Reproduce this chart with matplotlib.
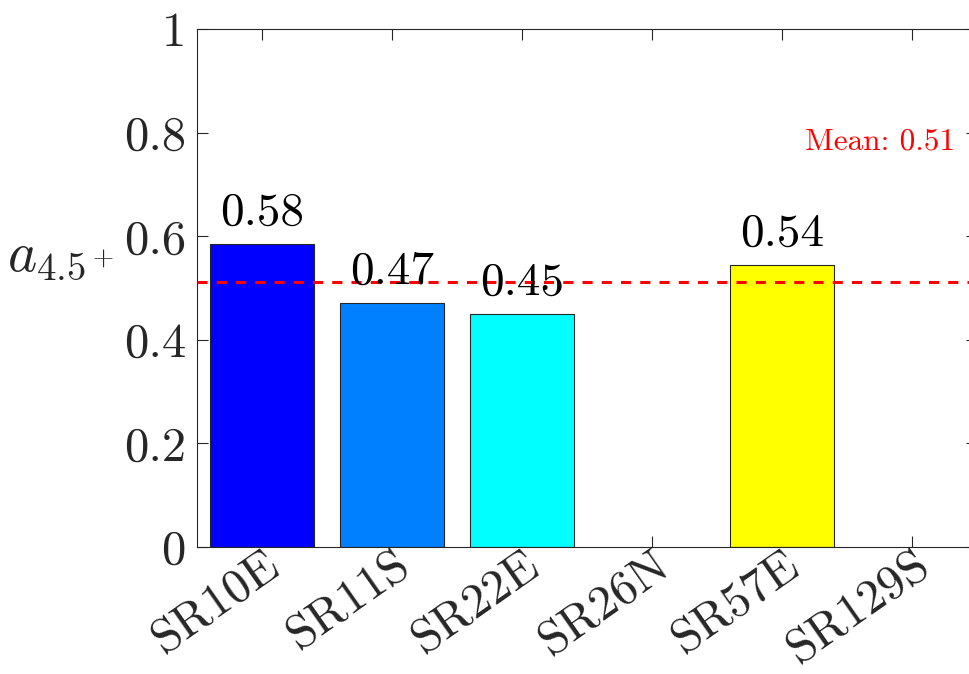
import numpy as np
import matplotlib
matplotlib.use("Agg")
import matplotlib.pyplot as plt

# data
sites = ["SR10E", "SR11S", "SR22E", "SR26N", "SR57E", "SR129S"]
values = [0.585, 0.471, 0.450, np.nan, 0.544, np.nan]
bar_colors = ["#0000ff", "#0080ff", "#00ffff", "#80ff80", "#ffff00", "#ff0000"]

plt.rcParams["font.family"] = "cmr10"
plt.rcParams["mathtext.fontset"] = "cm"
plt.rcParams["axes.unicode_minus"] = False

fig = plt.figure(figsize=(9.69, 6.74), dpi=100)
ax = fig.add_axes([197 / 969, 127 / 674, 780 / 969, 518 / 674])

x = np.arange(1, len(sites) + 1)
ax.bar(x, values, width=0.8, color=bar_colors, edgecolor="#262626", linewidth=0.8, zorder=2)

mean_val = np.nanmean(values)
ax.axhline(mean_val, color="red", linestyle=(0, (3.3, 3)), linewidth=2.2, zorder=3)
ax.text(6.33, 0.755, f"Mean: {mean_val:.2f}", color="red", fontsize=22.5,
        ha="right", va="bottom")

for xi, v in zip(x, values):
    if not np.isnan(v):
        ax.text(xi, v + 0.02, f"{v:.2f}", ha="center", va="bottom",
                fontsize=34, color="black", zorder=4)

ax.set_xlim(0.5, 6.5)
ax.set_ylim(0, 1)
ax.set_xticks(x)
ax.set_xticklabels(sites, rotation=35, ha="right",
                   rotation_mode="anchor", fontsize=35, color="#262626")
ax.set_yticks([0, 0.2, 0.4, 0.6, 0.8, 1])
ax.set_yticklabels(["0", "0.2", "0.4", "0.6", "0.8", "1"], fontsize=35, color="#262626")
ax.tick_params(direction="in", length=8, width=0.8, colors="#262626",
               top=True, right=True, pad=8)
ax.tick_params(axis="x", pad=-3)
for sp in ax.spines.values():
    sp.set_color("#262626")
    sp.set_linewidth(0.8)

ax.set_ylabel(r"$a_{4.5^+}$", fontsize=40, rotation=0, color="#262626",
              va="center", ha="center")
ax.yaxis.set_label_coords(-0.175, 0.56)

fig.savefig("out.png", dpi=100)
